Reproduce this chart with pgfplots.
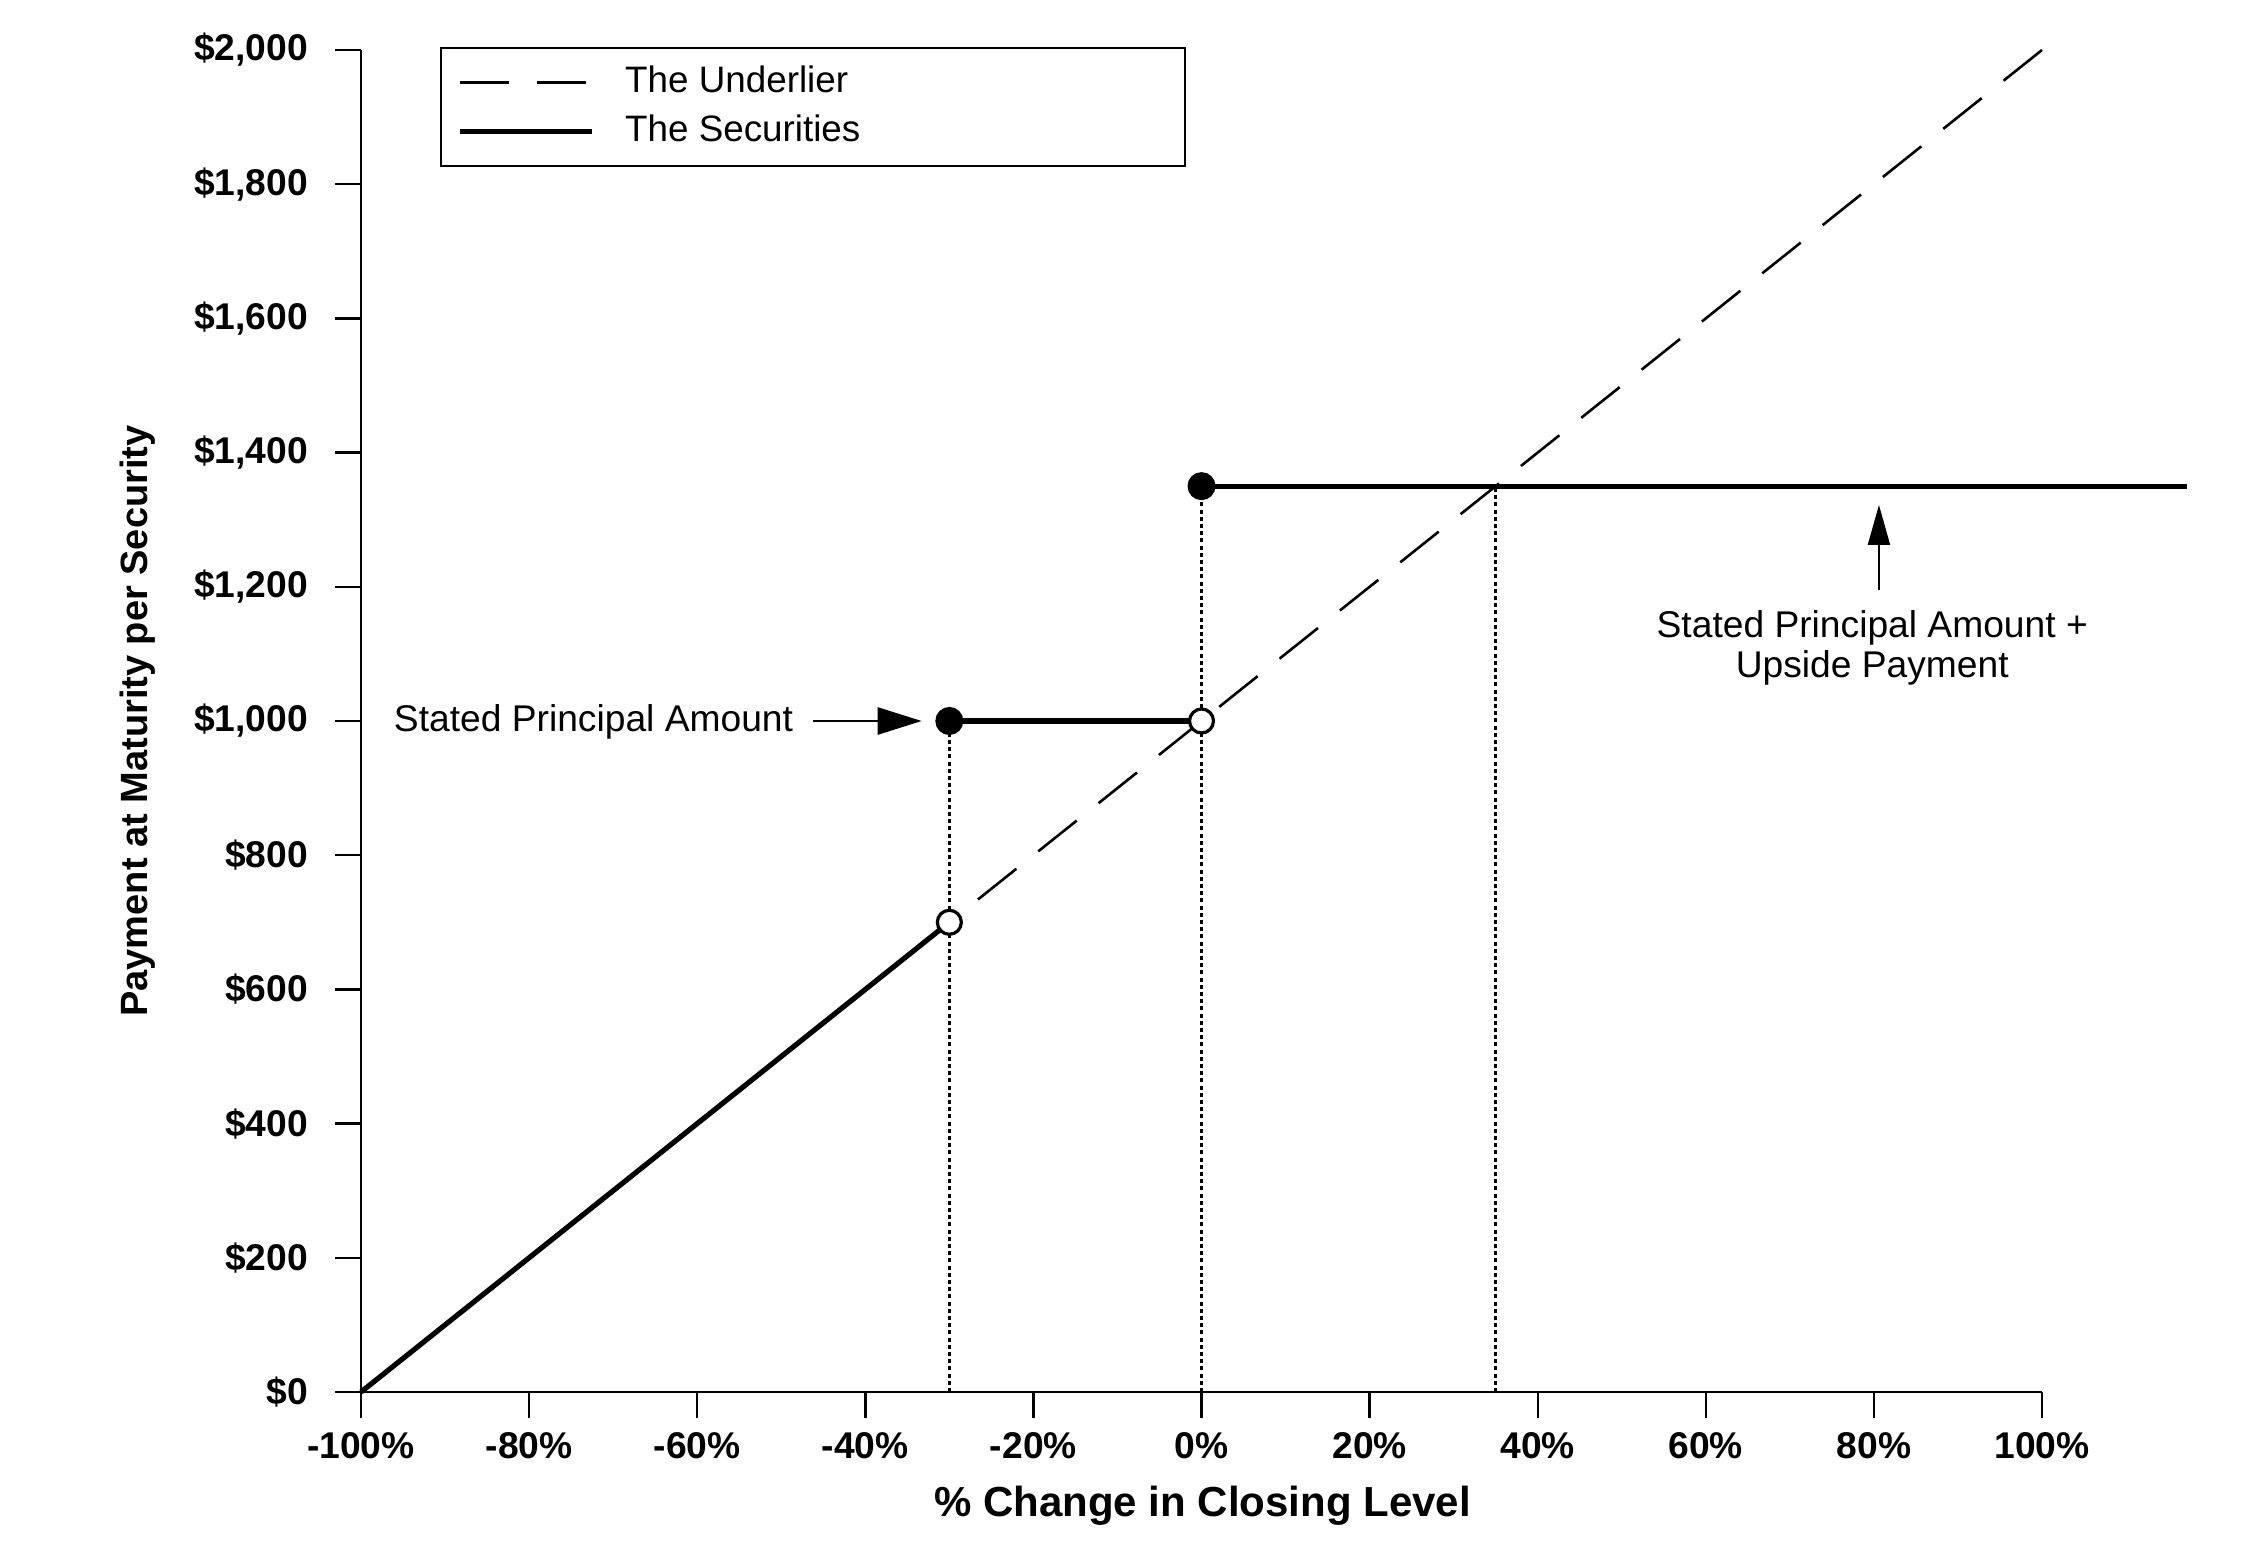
\documentclass[border=0pt]{standalone}
\usepackage{fontspec}
\setmainfont{Liberation Sans}
\usepackage{pgfplots}
\pgfplotsset{compat=1.18}
\usetikzlibrary{arrows.meta}
\begin{document}
\begin{tikzpicture}
\useasboundingbox (0,0) rectangle (561.25pt,387.75pt);
\begin{axis}[
  at={(90.25pt,39.75pt)}, anchor=south west,
  scale only axis, width=420.25pt, height=335.5pt,
  xmin=-100, xmax=100, ymin=0, ymax=2000,
  axis lines=left,
  axis line style={-, line width=0.6pt},
  clip=false,
  xtick={-100,-80,...,100},
  xticklabels={-100\%,-80\%,-60\%,-40\%,-20\%,0\%,20\%,40\%,60\%,80\%,100\%},
  ytick={0,200,...,2000},
  yticklabels={\$0,\$200,\$400,\$600,\$800,{\$1,000},{\$1,200},{\$1,400},{\$1,600},{\$1,800},{\$2,000}},
  tick align=outside,
  major tick length=6.5pt,
  tick style={line width=0.6pt, black},
  tick label style={font=\fontsize{9.3}{10}\selectfont\bfseries},
  yticklabel style={xshift=-3.2pt},
  legend style={at={(axis description cs:0.047,1.002)}, anchor=north west,
    draw=black, line width=0.5pt, font=\fontsize{9.2}{10}\selectfont,
    inner xsep=4pt, inner ysep=2.5pt, row sep=0pt},
  legend cell align=left,
  legend image code/.code={\draw[#1] (0pt,0pt) -- (33pt,0pt);},
]
% Underlier
\addplot[black, line width=0.65pt, dash pattern=on 12.3pt off 7pt] coordinates {(100,2000) (-100,0)};
\addlegendentry{\hspace{5.75pt}\makebox[134pt][l]{The Underlier}}
% Securities
\addplot[black, line width=1.3pt] coordinates {(-100,0) (-30,700)};
\addlegendentry{\hspace{5.75pt}\makebox[134pt][l]{The Securities}}
% dotted verticals
\addplot[forget plot, black, line width=0.6pt, dash pattern=on 1pt off 0.8pt] coordinates {(-30,0) (-30,1000)};
\addplot[forget plot, black, line width=0.6pt, dash pattern=on 1pt off 0.8pt] coordinates {(0,0) (0,1350)};
\addplot[forget plot, black, line width=0.6pt, dash pattern=on 1pt off 0.8pt] coordinates {(35,0) (35,1350)};
\addplot[forget plot, black, line width=1.3pt] coordinates {(-30,1000) (0,1000)};
\addplot[forget plot, black, line width=1.3pt] coordinates {(0,1350) (117.3,1350)};
% markers
\addplot[forget plot, only marks, mark=*, mark size=3.1pt, mark options={fill=black, draw=black, line width=0.8pt}] coordinates {(-30,1000) (0,1350)};
\addplot[forget plot, only marks, mark=*, mark size=3pt, mark options={fill=white, draw=black, line width=0.8pt}] coordinates {(-30,700) (0,1000)};
% annotations
\draw[line width=0.5pt, -{Triangle[length=11pt,width=6.8pt]}] (axis cs:-46.2,1000) -- (axis cs:-33.3,1000);
\node[anchor=mid east, font=\fontsize{9.3}{10}\selectfont, inner sep=0pt] at (axis cs:-48.5,1000) {Stated Principal Amount};
\draw[line width=0.5pt, -{Triangle[length=10pt,width=5.5pt]}] (axis cs:80.6,1195) -- (axis cs:80.6,1322);
\node[anchor=base, font=\fontsize{9.3}{10}\selectfont, inner sep=0pt] at (axis cs:79.8,1125) {Stated Principal Amount +};
\node[anchor=base, font=\fontsize{9.3}{10}\selectfont, inner sep=0pt] at (axis cs:79.8,1065) {Upside Payment};
% axis labels
\node[rotate=90, font=\fontsize{9.5}{10}\selectfont\bfseries] at (axis description cs:-0.1328,0.5) {Payment at Maturity per Security};
\node[anchor=base, font=\fontsize{10.5}{11}\selectfont\bfseries] at (axis description cs:0.5006,-0.0931) {\% Change in Closing Level};
\end{axis}
\end{tikzpicture}
\end{document}
